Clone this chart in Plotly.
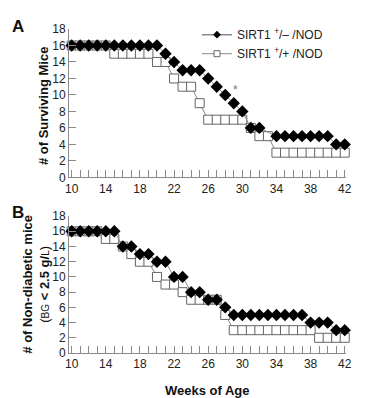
import plotly.graph_objects as go

# Panel A: surviving mice
a_het_weeks = [10,11,12,13,14,15,16,17,18,19,20,21,22,23,24,25,26,27,28,29,30,31,32,34,35,36,37,38,39,40,41,42]
a_het_vals  = [16,16,16,16,16,16,16,16,16,16,16,15,14,13,13,13,12,11,10,9,8,6,6,5,5,5,5,5,5,5,4,4]
a_wt_weeks = list(range(10, 43))
a_wt_vals  = [16,16,16,16,16,15,15,15,15,15,14,14,12,11,11,9,7,7,7,7,7,6,5,5,3,3,3,3,3,3,3,3,3]

# Panel B: non-diabetic mice
b_het_weeks = list(range(10, 43))
b_het_vals  = [16,16,16,16,16,16,14,14,13,13,12,12,10,10,8,8,7,7,6,5,5,5,5,5,5,5,5,5,4,4,4,3,3]
b_wt_weeks = list(range(10, 43))
b_wt_vals  = [16,16,16,16,15,15,14,13,12,12,10,9,9,8,7,7,7,7,5,3,3,3,3,3,3,3,3,3,3,2,2,2,2]

x_ticks = [10,14,18,22,26,30,34,38,42]
y_ticks = [0,2,4,6,8,10,12,14,16,18]

het_name = "SIRT1 <sup>+</sup>/– /NOD"
wt_name = "SIRT1 <sup>+</sup>/+ /NOD"

fig = go.Figure()

line_col = "#8a8a8a"
sq_edge = "#666666"

def add_pair(xw, yw, xh, yh, xa, ya):
    fig.add_trace(go.Scatter(x=xw, y=yw, mode="lines+markers", xaxis=xa, yaxis=ya,
        line=dict(color=line_col, width=1),
        marker=dict(symbol="square", size=9, color="white", line=dict(color=sq_edge, width=1)),
        showlegend=False, cliponaxis=False))
    fig.add_trace(go.Scatter(x=xh, y=yh, mode="lines+markers", xaxis=xa, yaxis=ya,
        line=dict(color=line_col, width=1),
        marker=dict(symbol="diamond", size=9.5, color="black", line=dict(width=0)),
        showlegend=False, cliponaxis=False))

add_pair(a_wt_weeks, a_wt_vals, a_het_weeks, a_het_vals, "x", "y")
add_pair(b_wt_weeks, b_wt_vals, b_het_weeks, b_het_vals, "x2", "y2")

# legend entries
fig.add_trace(go.Scatter(x=[None], y=[None], mode="lines+markers", name=het_name,
    line=dict(color=line_col, width=1.5),
    marker=dict(symbol="diamond", size=6, color="black"), xaxis="x", yaxis="y"))
fig.add_trace(go.Scatter(x=[None], y=[None], mode="lines+markers", name=wt_name,
    line=dict(color=line_col, width=1),
    marker=dict(symbol="square", size=6, color="white", line=dict(color=sq_edge, width=1)),
    xaxis="x", yaxis="y"))

font_fam = "Liberation Sans, Arial, sans-serif"

xcommon = dict(range=[9.69, 42.15], tickvals=x_ticks, ticks="inside", ticklen=7,
    tickcolor=line_col, showline=True, linecolor=line_col, linewidth=1,
    showgrid=False, zeroline=False, tickfont=dict(size=12, color="#222"),
    minor=dict(dtick=1, tick0=10, ticks="inside", ticklen=7, tickcolor=line_col, showgrid=False))
ycommon = dict(range=[0, 18], tickvals=y_ticks, ticks="inside", ticklen=7,
    tickcolor=line_col, showline=True, linecolor=line_col, linewidth=1,
    showgrid=False, zeroline=False, tickfont=dict(size=12, color="#222"))

W = 277.0
H = 332.0
def px(xp):
    return (xp - 69) / W
def py(yp):
    return (353 - yp) / H

# page body adds an 8px offset; figure laid out 8px up/left of target positions
fig.update_layout(
    width=362, height=390,
    margin=dict(l=61, r=24, t=13, b=45),
    paper_bgcolor="white", plot_bgcolor="white",
    font=dict(family=font_fam, color="#222"),
    xaxis=dict(domain=[0, 1], anchor="y", **xcommon),
    yaxis=dict(domain=[0.542, 1], anchor="x", **ycommon),
    xaxis2=dict(domain=[0, 1], anchor="y2", **xcommon),
    yaxis2=dict(domain=[0, 0.4226], anchor="x2", **ycommon),
    showlegend=True,
    legend=dict(x=px(197), y=py(12), xanchor="left", yanchor="top", bgcolor="rgba(0,0,0,0)",
                font=dict(size=12, color="#222"), tracegroupgap=0, itemwidth=30),
    annotations=[
        dict(text="<b>A</b>", x=px(18), y=py(18), xref="paper", yref="paper", showarrow=False,
             xanchor="center", yanchor="middle", font=dict(size=17, color="#111")),
        dict(text="<b>B</b>", x=px(18), y=py(209), xref="paper", yref="paper", showarrow=False,
             xanchor="center", yanchor="middle", font=dict(size=17, color="#111")),
        dict(text="*", x=29.2, y=10.6, xref="x", yref="y", showarrow=False,
             font=dict(size=12, color="#777")),
        dict(text="<b># of Surviving Mice</b>", textangle=-90, x=px(43), y=py(100),
             xref="paper", yref="paper", showarrow=False, xanchor="center", yanchor="middle",
             font=dict(size=13, color="#111")),
        dict(text="<b># of Non-diabetic mice</b><br>(<span style='font-size:10px'>BG</span> <b>&lt; 2.5 g/</b><span style='font-size:10px'>L</span>)",
             textangle=-90, x=px(36), y=py(283), xref="paper", yref="paper", showarrow=False,
             xanchor="center", yanchor="middle", font=dict(size=13, color="#111")),
        dict(text="<b>Weeks of Age</b>", x=px(207), y=py(391), xref="paper", yref="paper",
             xanchor="center", yanchor="middle",
             showarrow=False, font=dict(size=13, color="#111")),
    ],
)

fig.write_html("out.html")
